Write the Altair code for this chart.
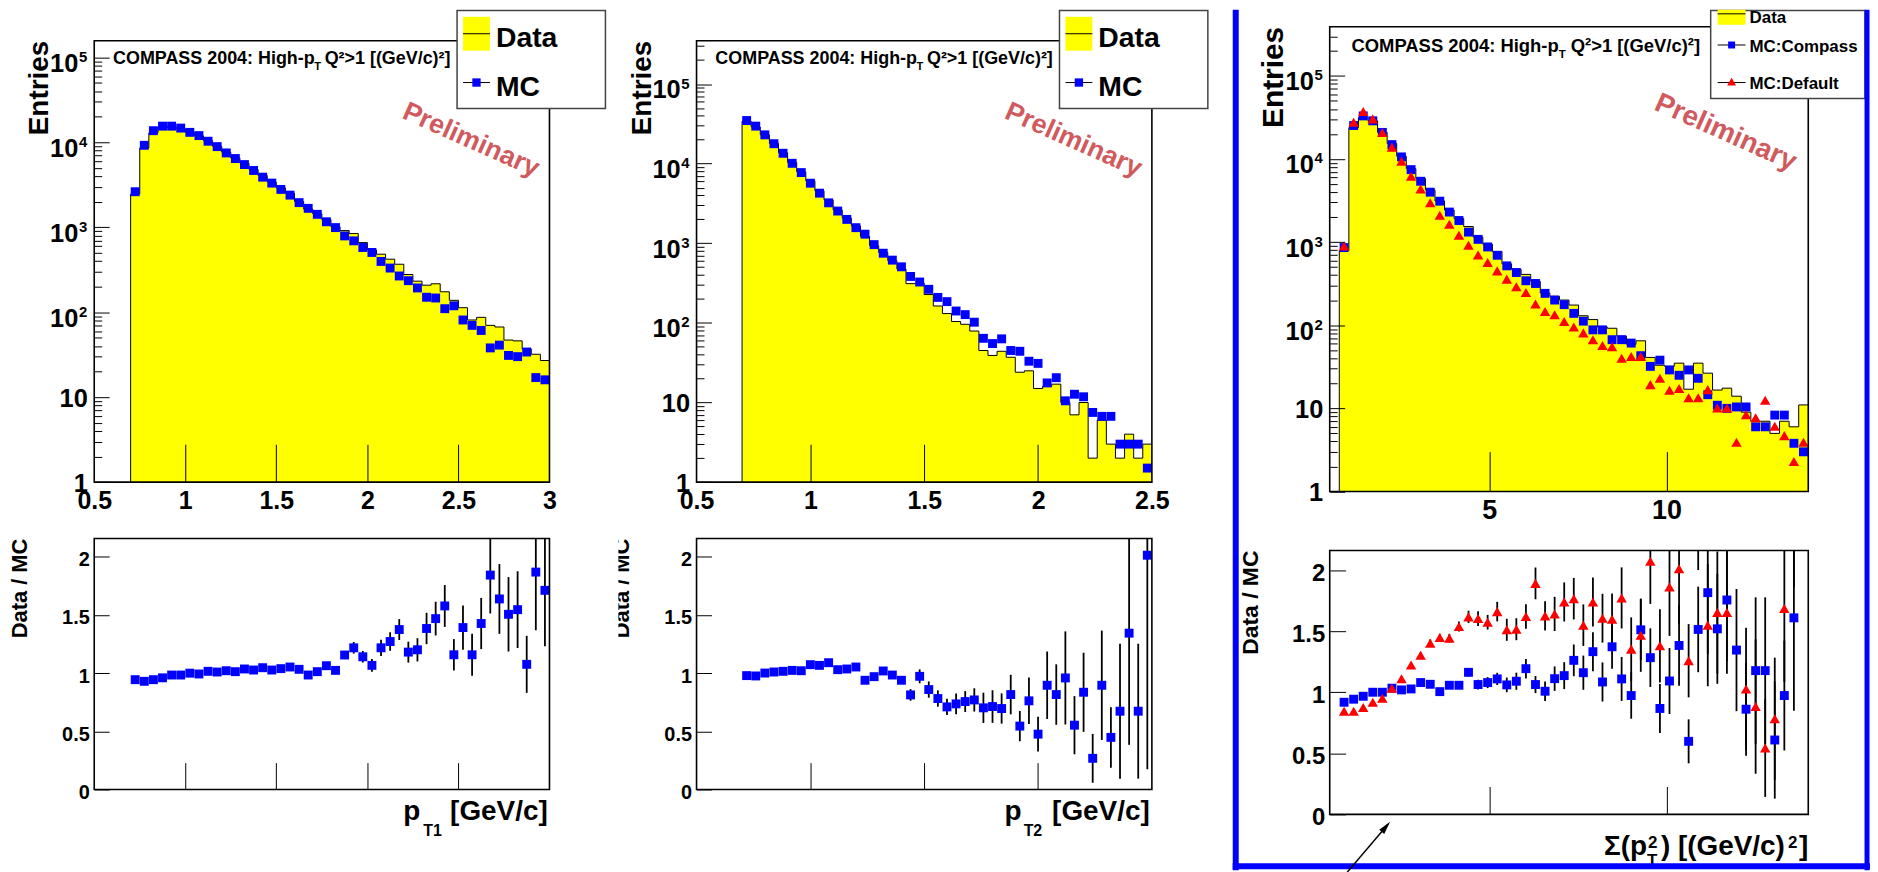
import altair as alt
import pandas as pd

W, H = 1870, 864
FONT = "Liberation Sans"
YELLOW, BLUE, RED = "#ffff00", "#0000ff", "#ff0000"
PRELIM = "#d05a5e"

# ---------------- panel 1 : p_T1 ----------------
pt1_start, pt1_width = 0.70, 0.05
pt1_data = [2470, 8580, 12930, 14880, 15250, 14460, 13100, 11920, 10460, 8990,
            7660, 6520, 5670, 4790, 4070, 3400, 2900, 2520, 2010, 1640,
            1440, 1230, 1015, 914, 843, 660, 539, 482, 421, 367,
            278, 232, 208, 216, 174, 138, 113, 81, 87, 70,
            67, 47, 46, 37, 32, 27]
pt1_mc = [2620, 9220, 13700, 15500, 15500, 14700, 13100, 12000, 10300, 8900,
          7500, 6440, 5470, 4660, 3890, 3310, 2790, 2390, 1950, 1670,
          1420, 1160, 991, 791, 692, 578, 505, 396, 331, 267,
          235, 193, 150, 147, 110, 119, 81, 70, 61, 38,
          41, 31, 30, 34, 17, 16]
pt1_ratio = [0.944, 0.93, 0.944, 0.96, 0.984, 0.984, 1.0, 0.993, 1.016, 1.01,
             1.021, 1.013, 1.036, 1.027, 1.047, 1.027, 1.039, 1.053, 1.033, 0.984,
             1.013, 1.064, 1.024, 1.156, 1.218, 1.141, 1.067, 1.218, 1.272, 1.375,
             1.181, 1.201, 1.384, 1.469, 1.578, 1.158, 1.392, 1.158, 1.427, 1.843,
             1.638, 1.506, 1.546, 1.076, 1.869, 1.712]
pt1_err = [0.01, 0.01, 0.01, 0.01, 0.01, 0.01, 0.01, 0.01, 0.01, 0.01,
           0.01, 0.01, 0.015, 0.015, 0.015, 0.015, 0.02, 0.02, 0.02, 0.025,
           0.025, 0.03, 0.03, 0.035, 0.05, 0.05, 0.055, 0.07, 0.08, 0.09,
           0.09, 0.1, 0.135, 0.145, 0.18, 0.135, 0.19, 0.18, 0.22, 0.33,
           0.3, 0.32, 0.33, 0.245, 0.5, 0.48]

# ---------------- panel 2 : p_T2 ----------------
pt2_start, pt2_width = 0.70, 0.04
pt2_data = [34070, 28890, 23020, 17980, 13720, 10340, 7880, 6090, 4550, 3510,
            2620, 2070, 1650, 1220, 933, 764, 604, 475, 311, 317,
            227, 163, 131, 104, 96, 79, 45, 39, 44, 37,
            24, 25, 15, 16, 17, 10, 7, 10, 2, 6,
            3, 2, 4, 2, 3]
pt2_mc = [34800, 29600, 23000, 17800, 13500, 10100, 7720, 5680, 4260, 3220,
          2540, 1995, 1570, 1300, 962, 750, 614, 506, 383, 326,
          264, 209, 185, 141, 127, 102, 64, 55, 63, 45,
          44, 33, 31, 17.6, 20.5, 10.5, 12.7, 11.8, 7.5, 6.7,
          6.7, 3.0, 3.0, 3.0, 1.5]
pt2_ratio = [0.979, 0.976, 1.001, 1.01, 1.016, 1.024, 1.021, 1.073, 1.067, 1.09,
             1.03, 1.036, 1.053, 0.939, 0.97, 1.019, 0.984, 0.939, 0.813, 0.973,
             0.859, 0.782, 0.71, 0.736, 0.756, 0.77, 0.702, 0.713, 0.696, 0.816,
             0.545, 0.762, 0.476, 0.896, 0.816, 0.959, 0.553, 0.836, 0.268, 0.896,
             0.448, 0.673, 1.344, 0.673, 2.014]
pt2_err = [0.01, 0.01, 0.01, 0.01, 0.01, 0.01, 0.01, 0.01, 0.012, 0.012,
           0.015, 0.015, 0.015, 0.02, 0.02, 0.025, 0.025, 0.03, 0.05, 0.06,
           0.07, 0.07, 0.07, 0.09, 0.09, 0.1, 0.13, 0.14, 0.13, 0.17,
           0.13, 0.2, 0.15, 0.29, 0.26, 0.4, 0.25, 0.34, 0.21, 0.47,
           0.26, 0.58, 0.96, 0.58, 1.84]

# ---------------- panel 3 : sum p_T^2 ----------------
sp_start, sp_width = 0.77, 0.27
sp_data = [790, 23860, 31900, 28800, 20900, 15390, 10800, 7650, 5830, 4250,
           3130, 2430, 1920, 1540, 1150, 944, 771, 549, 470, 409,
           338, 244, 223, 201, 175, 130, 117, 95, 92, 74,
           59, 65, 41, 33, 32, 35, 17, 35, 26.5, 16.6,
           17.5, 14, 9, 7, 7, 5, 7, 6, 11]
sp_compass = [860, 25300, 33000, 28800, 20900, 14900, 10600, 7450, 5400, 3990,
              3110, 2300, 1820, 1320, 1080, 875, 695, 518, 431, 343,
              318, 242, 201, 177, 139, 112, 88, 88, 67, 67,
              61, 43, 32, 38, 29, 25, 29, 23, 14.6, 10.9,
              10, 10.4, 10.4, 6, 6, 8.3, 8.3, 3.8, 3.0]
sp_default = [900, 27700, 37200, 30400, 20900, 13900, 9380, 6200, 4370, 2970,
              2100, 1640, 1210, 916, 702, 568, 451, 359, 291, 248,
              180, 146, 134, 111, 95, 81, 67, 57, 55, 40,
              42, 42, 19.3, 23, 16.5, 17.3, 13.4, 13.4, 16.8, 10.1,
              10.1, 3.9, 8.4, 7.7, 12.5, 6.1, 4.7, 2.3, 3.9]
sp_ratio_compass = [0.918, 0.943, 0.967, 1.0, 1.0, 1.033, 1.019, 1.027, 1.079, 1.065,
                    1.005, 1.057, 1.057, 1.163, 1.063, 1.079, 1.109, 1.06, 1.09, 1.193,
                    1.063, 1.008, 1.111, 1.136, 1.261, 1.16, 1.332, 1.084, 1.372, 1.109,
                    0.973, 1.511, 1.283, 0.867, 1.092, 1.383, 0.598, 1.514, 1.815, 1.519,
                    1.755, 1.345, 0.861, 1.177, 1.177, 0.609, 0.973, 1.609]
sp_err_compass = [0.01, 0.01, 0.01, 0.01, 0.01, 0.01, 0.015, 0.015, 0.02, 0.02,
                  0.025, 0.025, 0.03, 0.035, 0.04, 0.045, 0.05, 0.06, 0.07, 0.08,
                  0.07, 0.08, 0.1, 0.11, 0.13, 0.14, 0.16, 0.16, 0.18, 0.18,
                  0.19, 0.25, 0.24, 0.2, 0.27, 0.33, 0.18, 0.35, 0.5, 0.45,
                  0.5, 0.5, 0.38, 0.6, 0.6, 0.48, 0.45, 0.76]
sp_ratio_default = [0.845, 0.845, 0.875, 0.918, 0.951, 1.033, 1.111, 1.223, 1.302, 1.402,
                    1.448, 1.443, 1.538, 1.617, 1.603, 1.573, 1.66, 1.511, 1.516, 1.62,
                    1.891, 1.625, 1.641, 1.739, 1.766, 1.549, 1.739, 1.606, 1.598, 1.772,
                    1.353, 1.467, 2.073, 1.38, 1.861, 2.011, 1.258, 2.6, 1.549, 1.652,
                    1.652, 3.6, 1.027, 0.883, 0.543, 0.783, 1.685, 2.66]
sp_err_default = [0.01, 0.01, 0.01, 0.01, 0.015, 0.015, 0.02, 0.02, 0.025, 0.03,
                  0.03, 0.035, 0.04, 0.05, 0.06, 0.06, 0.08, 0.09, 0.09, 0.1,
                  0.13, 0.12, 0.14, 0.16, 0.17, 0.17, 0.2, 0.2, 0.21, 0.25,
                  0.26, 0.3, 0.35, 0.3, 0.4, 0.45, 0.3, 0.6, 0.5, 0.5,
                  0.5, 0.9, 0.5, 0.55, 0.4, 0.5, 0.6, 0.8]

log_plain = [1, 10]
log_power = [100, 1000, 10000, 100000]
log_major = log_plain + log_power
log_minor = [m * 10 ** k for k in range(6) for m in range(2, 10)]
ratio_ticks = [0, 0.5, 1, 1.5, 2]
EXPEXPR = ("datum.value == 100 ? '2' : datum.value == 1000 ? '3' : "
           "datum.value == 10000 ? '4' : '5'")

# ---------------- layout (canvas pixels) ----------------
G1 = dict(x0=86.6, x1=543.8, yt0=31.0, yt1=474.3, yb0=531.0, yb1=783.0)
G2 = dict(x0=691.5, x1=1148.8, yt0=31.0, yt1=474.3, yb0=531.0, yb1=783.0)
G3 = dict(x0=1327.4, x1=1808.0, yt0=17.0, yt1=483.7, yb0=543.0, yb1=808.0)

ONE = pd.DataFrame({"a": [0]})


def lin(dom, rng, clamp=False):
    return alt.Scale(type="linear", domain=dom, range=rng, nice=False, zero=False, clamp=clamp)


def logsc(dom, rng):
    return alt.Scale(type="log", domain=dom, range=rng, nice=False)


def label_axis(orient, offset, values, size, pad, expr=None, loff=0):
    kw = dict(orient=orient, offset=offset, values=values, ticks=False, tickSize=0,
              domain=False, grid=False, title=None, labelFont=FONT, labelFontSize=size,
              labelFontWeight="bold", labelColor="black", labelPadding=pad,
              labelFlush=False, labelOverlap=False, labelOffset=loff)
    if expr:
        kw["labelExpr"] = expr
    else:
        kw["format"] = "~r"
    return alt.Axis(**kw)


def tick_axis(orient, offset, values, size):
    return alt.Axis(orient=orient, offset=offset, values=values, ticks=True, tickSize=size,
                    tickColor="black", tickWidth=1, labels=False, domain=False, grid=False,
                    title=None, zindex=1)


def frame(xs, ys, xd, yd, yaxis=None, visible=True):
    df = pd.DataFrame({"x0": [xd[0]], "x1": [xd[1]], "y0": [yd[0]], "y1": [yd[1]]})
    return alt.Chart(df).mark_rect(fillOpacity=0, stroke="black", strokeWidth=1.6,
                                   strokeOpacity=1 if visible else 0).encode(
        x=alt.X("x0:Q", scale=xs, axis=None), x2="x1:Q",
        y=alt.Y("y0:Q", scale=ys, axis=yaxis), y2="y1:Q")


def top_panel(g, xd, yd, start, bw, data, series, xlab_vals, xlab_size, xtick_vals, xtick_len):
    xs = lin(xd, [g["x0"], g["x1"]])
    ys = logsc(yd, [g["yt1"], g["yt0"]])
    n = len(data)
    edges = [round(start + i * bw, 4) for i in range(n + 1)]
    centers = [round(start + (i + 0.5) * bw, 4) for i in range(n)]
    area_df = pd.DataFrame({"x": edges, "y": data + [data[-1]], "base": [1] * (n + 1)})
    line_df = pd.DataFrame({"x": [edges[0]] + edges, "y": [1] + data + [data[-1]],
                            "i": list(range(n + 2))})
    out = []
    out.append(alt.Chart(area_df).mark_area(interpolate="step-after", color=YELLOW, opacity=1).encode(
        x=alt.X("x:Q", scale=xs, axis=label_axis("bottom", g["yt1"] - H, xlab_vals, xlab_size, 6)),
        y=alt.Y("y:Q", scale=ys, axis=label_axis("left", -g["x0"], log_plain, 25.5, 7, None, 1)),
        y2="base:Q"))
    out.append(alt.Chart(line_df).mark_line(interpolate="step-after", color="black", strokeWidth=1).encode(
        x=alt.X("x:Q", scale=xs, axis=tick_axis("top", -g["yt1"], xtick_vals, xtick_len)),
        y=alt.Y("y:Q", scale=ys, axis=tick_axis("right", g["x0"] - W, log_major, 15)),
        order="i:Q"))
    minors = [v for v in log_minor if v <= yd[1]]
    for j, (vals, shape, color, size) in enumerate(series):
        df = pd.DataFrame({"x": centers, "y": vals})
        yax = tick_axis("right", g["x0"] - W, minors, 7.5) if j == 0 else None
        out.append(alt.Chart(df).mark_point(shape=shape, filled=True, color=color, size=size,
                                            opacity=1, strokeWidth=0).encode(
            x=alt.X("x:Q", scale=xs, axis=None), y=alt.Y("y:Q", scale=ys, axis=yax)))
    # "10" bases and raised exponents of the decade labels
    out.append(frame(xs, ys, xd, yd, label_axis("left", -g["x0"], log_power, 25.5, 16.5, "'10'", 6), False))
    out.append(frame(xs, ys, xd, yd, label_axis("left", -g["x0"], log_power, 15, 7.5, EXPEXPR, -1)))
    return out


def ratio_panel(g, xd, yd, start, bw, series, ylab_size, xtick_vals, xtick_len, ytick_len):
    xs = lin(xd, [g["x0"], g["x1"]])
    ys = lin(yd, [g["yb1"], g["yb0"]], clamp=True)
    out, pts = [], []
    for j, (vals, errs, shape, color, size) in enumerate(series):
        n = len(vals)
        centers = [round(start + (i + 0.5) * bw, 4) for i in range(n)]
        df = pd.DataFrame({"x": centers, "r": vals, "e": errs})
        df["lo"] = df["r"] - df["e"]
        df["hi"] = df["r"] + df["e"]
        if j == 0:
            xax = tick_axis("top", -g["yb1"], xtick_vals, xtick_len)
            yax = label_axis("left", -g["x0"], ratio_ticks, ylab_size, 5, None, 3)
        else:
            xax, yax = None, None
        out.append(alt.Chart(df).mark_rule(color="black", strokeWidth=1.8).encode(
            x=alt.X("x:Q", scale=xs, axis=xax), y=alt.Y("lo:Q", scale=ys, axis=yax), y2="hi:Q"))
        yax2 = tick_axis("right", g["x0"] - W, ratio_ticks, ytick_len) if j == 0 else None
        pts.append(alt.Chart(df).transform_filter(f"datum.r <= {yd[1]}").mark_point(
            shape=shape, filled=True, color=color, size=size, opacity=1, strokeWidth=0).encode(
            x=alt.X("x:Q", scale=xs, axis=None), y=alt.Y("r:Q", scale=ys, axis=yax2)))
    return out + pts + [frame(xs, ys, xd, yd)]


def txt(x, y, s, size, align="left", baseline="alphabetic", angle=0, color="black"):
    return alt.Chart(ONE).mark_text(text=s, align=align, baseline=baseline, angle=angle,
                                    font=FONT, fontSize=size, fontWeight="bold", color=color).encode(
        x=alt.value(x), y=alt.value(y))


def rule(x, y, x2, y2, color="black", w=1.0):
    return alt.Chart(ONE).mark_rule(color=color, strokeWidth=w).encode(
        x=alt.value(x), y=alt.value(y), x2=alt.value(x2), y2=alt.value(y2))


def box(x, y, x2, y2, fill, stroke=None, sw=0.0):
    kw = dict(fill=fill)
    if stroke:
        kw.update(stroke=stroke, strokeWidth=sw)
    return alt.Chart(ONE).mark_rect(**kw).encode(
        x=alt.value(x), x2=alt.value(x2), y=alt.value(y), y2=alt.value(y2))


def marker(x, y, shape, color, size, angle=0):
    return alt.Chart(ONE).mark_point(shape=shape, filled=True, color=color, size=size,
                                     opacity=1, strokeWidth=0, angle=angle).encode(
        x=alt.value(x), y=alt.value(y))


def header(g, size, pr, tl, ql, base, sub):
    return [txt(g["x0"] + pr, g["yt0"] + base, "COMPASS 2004: High-p", size, align="right"),
            txt(g["x0"] + tl, g["yt0"] + sub, "T", size * 0.62),
            txt(g["x0"] + ql, g["yt0"] + base, "Q\u00b2>1 [(GeV/c)\u00b2]", size)]


layers = []

# ---- panel 1 ----
layers += top_panel(G1, [0.5, 3.0], [1, 1.57e5], pt1_start, pt1_width, pt1_data,
                    [(pt1_mc, "square", BLUE, 80)], [0.5, 1, 1.5, 2, 2.5, 3], 25,
                    [1, 1.5, 2, 2.5], 38)
layers += ratio_panel(G1, [0.5, 3.0], [0, 2.157], pt1_start, pt1_width,
                      [(pt1_ratio, pt1_err, "square", BLUE, 80)], 20, [1, 1.5, 2, 2.5], 27, 15)
layers += header(G1, 18, 221.4, 221.0, 231.4, 23, 29)
layers += [txt(465, 131, "Preliminary", 27, align="center", baseline="middle", angle=24, color=PRELIM),
           txt(40, 31, "Entries", 28, align="right", angle=270),
           txt(19, 531, "Data / MC", 22, align="right", angle=270),
           txt(397, 814, "p", 28), txt(417, 830, "T1", 16), txt(444, 814, "[GeV/c]", 28)]

# ---- panel 2 ----
layers += top_panel(G2, [0.5, 2.5], [1, 3.5e5], pt2_start, pt2_width, pt2_data,
                    [(pt2_mc, "square", BLUE, 80)], [0.5, 1, 1.5, 2, 2.5], 25,
                    [1, 1.5, 2], 38)
layers += ratio_panel(G2, [0.5, 2.5], [0, 2.157], pt2_start, pt2_width,
                      [(pt2_ratio, pt2_err, "square", BLUE, 80)], 20, [1, 1.5, 2], 27, 15)
layers += header(G2, 18, 221.4, 221.0, 231.4, 23, 29)
layers += [txt(1070, 131, "Preliminary", 27, align="center", baseline="middle", angle=24, color=PRELIM),
           txt(645.6, 31, "Entries", 28, align="right", angle=270),
           txt(624, 531, "Data / MC", 22, align="right", angle=270),
           box(588, 526, 613, 655, "white"),
           txt(1000.7, 814, "p", 28), txt(1020, 830, "T2", 16), txt(1048.6, 814, "[GeV/c]", 28)]

# ---- panel 3 ----
layers += top_panel(G3, [0.5, 14.0], [1, 3.9e5], sp_start, sp_width, sp_data,
                    [(sp_compass, "square", BLUE, 80), (sp_default, "triangle-up", RED, 110)],
                    [5, 10], 27, [5, 10], 40)
layers += ratio_panel(G3, [0.5, 14.0], [0, 2.16], sp_start, sp_width,
                      [(sp_ratio_compass, sp_err_compass, "square", BLUE, 80),
                       (sp_ratio_default, sp_err_default, "triangle-up", RED, 110)],
                      24, [5, 10], 28, 16)
layers += header(G3, 18.5, 230.0, 230.0, 242.0, 25, 31)
layers += [txt(1725, 123.5, "Preliminary", 28, align="center", baseline="middle", angle=24, color=PRELIM),
           txt(1280, 17, "Entries", 30, align="right", angle=270),
           txt(1255, 543, "Data / MC", 23, align="right", angle=270),
           txt(1646, 849, "\u03a3(p", 28, align="right"),
           txt(1647, 842, "2", 17), txt(1646, 860, "T", 17),
           txt(1660, 849, ") [(GeV/c)", 28),
           txt(1797, 842, "2", 17, align="right"),
           txt(1808, 849, "]", 28, align="right")]

# ---- legends ----
for dx in (0, 605):
    layers += [box(451 + dx, 0.75, 600 + dx, 99, "white", "#444444", 1.5),
               box(457 + dx, 7, 484 + dx, 41, YELLOW),
               rule(457 + dx, 24, 484 + dx, 24),
               txt(490 + dx, 37, "Data", 28.5),
               rule(457 + dx, 73, 484 + dx, 73),
               marker(470.5 + dx, 73, "square", BLUE, 70),
               txt(490 + dx, 87, "MC", 28.5)]
layers += [box(1710, 0.75, 1865, 89, "white", "#444444", 1.5),
           box(1717, 0, 1745, 15, YELLOW),
           rule(1717, 4, 1745, 4),
           txt(1749, 13, "Data", 17),
           rule(1717, 35.3, 1745, 35.3),
           marker(1731, 35.3, "square", BLUE, 49),
           txt(1749, 42, "MC:Compass", 17),
           rule(1717, 73, 1745, 73),
           marker(1731, 72, "triangle-up", RED, 80),
           txt(1749, 79.3, "MC:Default", 17)]

# ---- blue frame and arrow ----
layers += [rule(1233, 0, 1233, H, BLUE, 6),
           rule(1230, H - 4, W, H - 4, BLUE, 6),
           rule(1867, 0, 1867, H, BLUE, 5),
           rule(1345, 866, 1386, 818, "black", 1.5),
           marker(1388, 815.5, "M0,0L0.45,1.8L-0.45,1.8Z", "black", 210, angle=40)]

chart = alt.layer(*layers).resolve_scale(x="independent", y="independent").properties(
    width=W, height=H, autosize=alt.AutoSizeParams(type="none"), padding=0, background="white"
).configure_view(strokeWidth=0)

chart.save("out.html", embed_options={"renderer": "svg", "actions": False})
